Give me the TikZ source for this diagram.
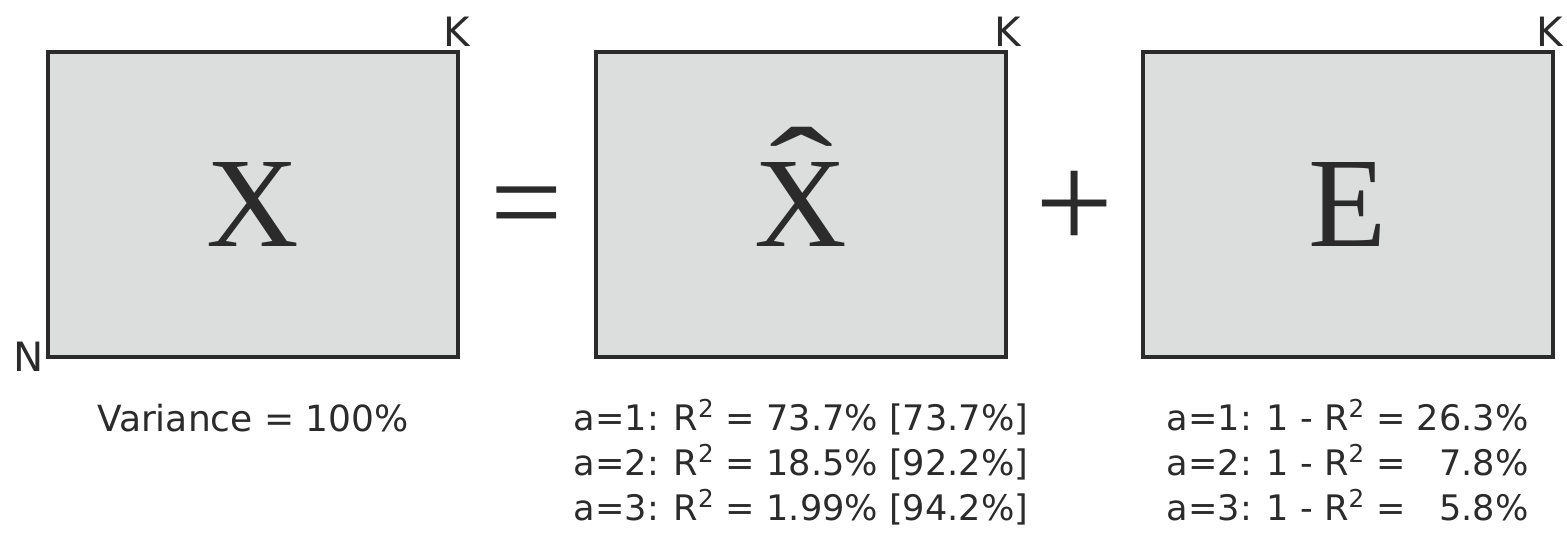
\documentclass[tikz,border=0pt]{standalone}
\usepackage{fontspec}
\setmainfont{Liberation Serif}
\setsansfont{DejaVu Sans}
\usetikzlibrary{positioning, calc}
\definecolor{boxgray}{HTML}{DCDDDD}
\definecolor{inkgray}{HTML}{2B2B2B}
\newcommand{\xhat}{\ooalign{X\cr\hidewidth\raisebox{17pt}[0pt][0pt]{\scalebox{1.5}[1]{\char"02C6}}\hidewidth\cr}}

\begin{document}
\begin{tikzpicture}[
        node distance = 2.68cm,
        matbox/.style={draw=inkgray, fill=boxgray, line width=2.3pt,
            minimum width=8.2cm, minimum height=6.1cm, inner sep=0pt,
            text=inkgray, font=\fontsize{73}{80}\selectfont},
        sign/.style={text=inkgray, inner sep=0pt, font=\fontsize{73}{80}\selectfont},
        dimlabel/.style={text=inkgray, inner sep=1.5pt, font=\sffamily\fontsize{23}{26}\selectfont},
        stats/.style={text=inkgray, inner sep=0pt, align=left,
            font=\sffamily\fontsize{20}{25.6}\selectfont},
    ]
        \useasboundingbox (0,0) rectangle (31.34,-10.98);

        % the three matrices
        \node[matbox] (X) at (5.06,-4.09) {X};
        \node[matbox, right=of X] (Xhat) {\xhat};
        \node[matbox, right=2.65cm of Xhat] (E) {E};

        \node[sign, yshift=-0.24cm] (eq) at ($(X.east)!0.5!(Xhat.west)$) {=};
        \node[sign, yshift=-0.12cm, scale=1.08] (plus) at ($(Xhat.east)!0.5!(E.west)$) {+};

        % dimensions
        \node[dimlabel, anchor=south, xshift=-2pt] (kX) at (X.north east) {K};
        \node[dimlabel, anchor=south] (kXhat) at (Xhat.north east) {K};
        \node[dimlabel, anchor=south, xshift=-3pt] (kE) at (E.north east) {K};
        \node[dimlabel, anchor=east, yshift=1pt, inner sep=1pt] (nX) at (X.south west) {N};

        % explained variance
        \node[stats, below=0.9cm of X, font=\sffamily\fontsize{20.5}{25.6}\selectfont] (var) {Variance = 100\%};
        \node[stats, below=0.8cm of Xhat] (fit) {%
            a=1: R\textsuperscript{2} = 73.7\% [73.7\%]\\
            a=2: R\textsuperscript{2} = 18.5\% [92.2\%]\\
            a=3: R\textsuperscript{2} = 1.99\% [94.2\%]};
        \node[stats, below=0.8cm of E] (res) {%
            a=1: 1 - R\textsuperscript{2} = 26.3\%\\
            a=2: 1 - R\textsuperscript{2} = \phantom{2}7.8\%\\
            a=3: 1 - R\textsuperscript{2} = \phantom{2}5.8\%};
\end{tikzpicture}
\end{document}
